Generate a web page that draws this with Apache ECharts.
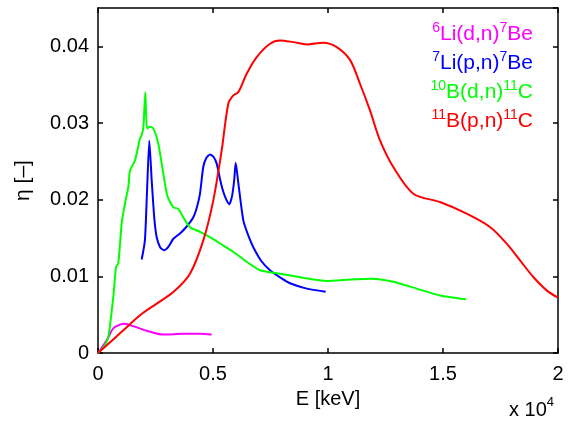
<!DOCTYPE html>
<html>
<head>
<meta charset="utf-8">
<script src="https://cdn.jsdelivr.net/npm/echarts@6/dist/echarts.min.js"></script>
<style>
  html, body { margin: 0; padding: 0; background: #fff; }
  #chart { width: 571px; height: 425px; }
</style>
</head>
<body>
<div id="chart"></div>
<script>
// energy E [keV] and yield eta [-] for each reaction
var liDnE   = [0, 378, 665, 957, 1174, 1535, 2117, 2839, 3709, 4435, 4944];
var liDnEta = [0, 0.00166, 0.0032, 0.0037, 0.0038, 0.0035, 0.0029, 0.0024, 0.0025, 0.0025, 0.0024];

var liPnE   = [1900, 2040, 2130, 2230, 2335, 2450, 2552, 2700, 2870, 3050, 3274, 3565, 3857, 4144, 4300, 4435, 4578, 4720, 4870, 5020, 5161, 5304, 5450, 5596, 5709, 5830, 5920, 5987, 6100, 6317, 6550, 6752, 7100, 7478, 8000, 8348, 9074, 9900];
var liPnEta = [0.0122, 0.0147, 0.0210, 0.0277, 0.0225, 0.0175, 0.0151, 0.0138, 0.0134, 0.0138, 0.0149, 0.0156, 0.0165, 0.0177, 0.0190, 0.0208, 0.0243, 0.0255, 0.0259, 0.0256, 0.0247, 0.0227, 0.0210, 0.0199, 0.0194, 0.0205, 0.0225, 0.0248, 0.0222, 0.0173, 0.0152, 0.0138, 0.0120, 0.0108, 0.0097, 0.0091, 0.0084, 0.0080];

var bDnE   = [0, 250, 448, 665, 783, 883, 1030, 1174, 1317, 1391, 1609, 1826, 1900, 1975, 2057, 2130, 2261, 2404, 2622, 2839, 3013, 3274, 3491, 3709, 4000, 4435, 4870, 5448, 5883, 6465, 7043, 7770, 8926, 9943, 11000, 11900, 12839, 13857, 14870, 16000];
var bDnEta = [0, 0.0008, 0.0021, 0.0073, 0.0112, 0.0117, 0.0169, 0.0195, 0.0216, 0.0238, 0.0251, 0.0280, 0.0284, 0.0295, 0.0340, 0.0293, 0.0295, 0.0293, 0.0273, 0.0234, 0.0205, 0.0190, 0.0188, 0.0177, 0.0164, 0.0158, 0.0151, 0.0140, 0.0132, 0.0119, 0.0108, 0.0104, 0.0098, 0.0094, 0.0096, 0.0097, 0.0093, 0.0084, 0.0075, 0.0070];

var bPnE   = [0, 1100, 1826, 2552, 3274, 4000, 4578, 5013, 5378, 5665, 5883, 6100, 6465, 6900, 7478, 7913, 8491, 9074, 9796, 10378, 10957, 11391, 11826, 12261, 12839, 13709, 14870, 16030, 17043, 17770, 18348, 18926, 19509, 20000];
var bPnEta = [0, 0.00296, 0.00492, 0.00644, 0.00795, 0.01035, 0.01469, 0.01991, 0.02643, 0.03252, 0.0336, 0.03403, 0.03643, 0.03859, 0.04034, 0.04077, 0.04055, 0.04025, 0.04047, 0.0399, 0.03823, 0.03512, 0.03164, 0.02773, 0.02425, 0.02078, 0.01969, 0.01817, 0.01643, 0.01426, 0.01209, 0.00991, 0.00817, 0.00722];

var xTicks = [0, 5000, 10000, 15000, 20000];
var yTicks = [0, 0.01, 0.02, 0.03, 0.04];

var FONT = 'Liberation Sans, Arial, sans-serif';

function pairs(xs, ys) {
  return xs.map(function (x, i) { return [x, ys[i]]; });
}

function line(name, color, xs, ys, smooth) {
  return {
    name: name,
    type: 'line',
    data: pairs(xs, ys),
    symbol: 'none',
    smooth: smooth,
    lineStyle: { color: color, width: 2 },
    itemStyle: { color: color },
    z: 3
  };
}

function legendText(txt, color, top) {
  return {
    type: 'text',
    right: 38,
    top: top,
    z: 10,
    style: {
      text: txt,
      fill: color,
      font: '21px ' + FONT,
      lineHeight: 27,
      rich: { s: { fontSize: 14, fontFamily: FONT, verticalAlign: 'top', lineHeight: 27, fill: color } }
    }
  };
}

var chart = echarts.init(document.getElementById('chart'), null, { renderer: 'canvas' });

var tickStyle = { inside: true, length: 5, lineStyle: { color: '#000', width: 1.5 } };
var lineBlack = { show: true, onZero: false, lineStyle: { color: '#000', width: 1.5 } };

var option = {
  backgroundColor: '#fff',
  animation: false,
  grid: { left: 98, right: 13, top: 8, bottom: 72 },
  xAxis: [{
    type: 'value',
    min: xTicks[0],
    max: xTicks[xTicks.length - 1],
    interval: xTicks[1] - xTicks[0],
    name: 'E [keV]',
    nameLocation: 'middle',
    nameGap: 36,
    nameMoveOverlap: false,
    nameTextStyle: { fontFamily: FONT, fontSize: 20, color: '#000' },
    axisLine: lineBlack,
    axisTick: tickStyle,
    splitLine: { show: false },
    axisLabel: {
      fontFamily: FONT, fontSize: 20, color: '#000', margin: 11,
      formatter: function (v) { return String(v / 10000); }
    }
  }, {
    type: 'value',
    position: 'top',
    min: xTicks[0],
    max: xTicks[xTicks.length - 1],
    interval: xTicks[1] - xTicks[0],
    axisLine: lineBlack,
    axisTick: tickStyle,
    splitLine: { show: false },
    axisLabel: { show: false }
  }],
  yAxis: [{
    type: 'value',
    min: 0,
    max: 0.045,
    interval: yTicks[1] - yTicks[0],
    name: 'η [–]',
    nameLocation: 'middle',
    nameGap: 64,
    nameMoveOverlap: false,
    nameTextStyle: { fontFamily: FONT, fontSize: 21, color: '#000' },
    axisLine: lineBlack,
    axisTick: tickStyle,
    splitLine: { show: false },
    axisLabel: {
      fontFamily: FONT, fontSize: 20, color: '#000', margin: 9,
      showMaxLabel: false,
      formatter: function (v) {
        if (yTicks.indexOf(Math.round(v * 100) / 100) < 0) return '';
        return v === 0 ? '0' : v.toFixed(2);
      }
    }
  }, {
    type: 'value',
    position: 'right',
    min: 0,
    max: 0.045,
    interval: yTicks[1] - yTicks[0],
    axisLine: lineBlack,
    axisTick: tickStyle,
    splitLine: { show: false },
    axisLabel: { show: false }
  }],
  graphic: [
    legendText('{s|6}Li(d,n){s|7}Be', '#ff00ff', 21),
    legendText('{s|7}Li(p,n){s|7}Be', '#0000ff', 50),
    legendText('{s|10}B(d,n){s|11}C', '#00ff00', 79),
    legendText('{s|11}B(p,n){s|11}C', '#ff0000', 108),
    {
      type: 'text',
      left: 509,
      top: 396,
      style: {
        text: 'x 10{s|4}',
        fill: '#000',
        font: '20px ' + FONT,
        lineHeight: 28,
        rich: { s: { fontSize: 13, fontFamily: FONT, verticalAlign: 'top', lineHeight: 28, fill: '#000' } }
      }
    }
  ],
  series: [
    line('6Li(d,n)7Be', '#ff00ff', liDnE, liDnEta, 0.3),
    line('7Li(p,n)7Be', '#0000ff', liPnE, liPnEta, 0.2),
    line('10B(d,n)11C', '#00ff00', bDnE, bDnEta, 0.2),
    line('11B(p,n)11C', '#ff0000', bPnE, bPnEta, 0.3)
  ]
};

chart.setOption(option);
</script>
</body>
</html>
